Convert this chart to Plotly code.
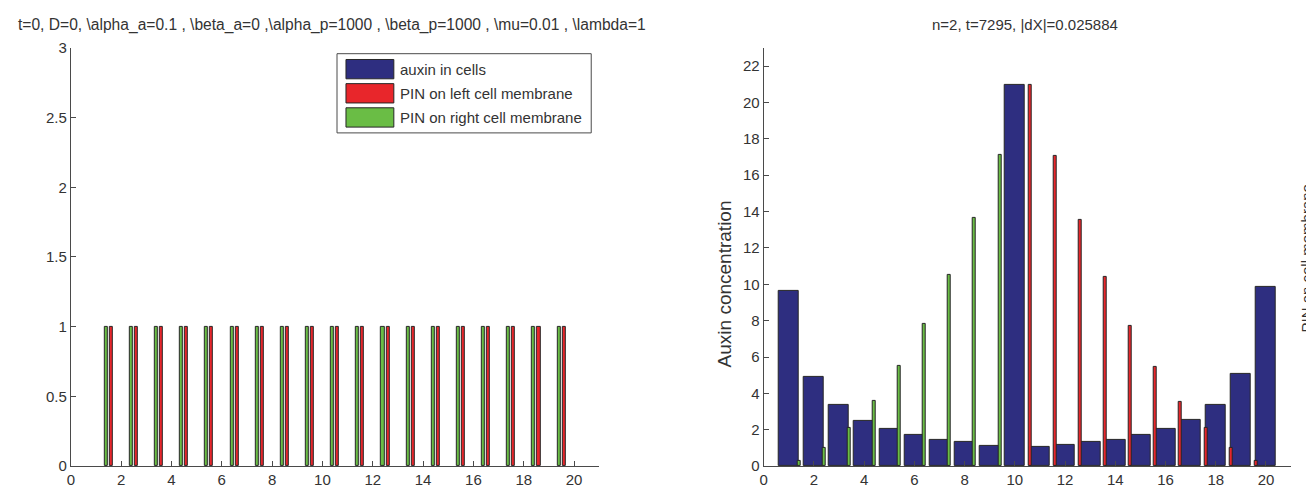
import plotly.graph_objects as go

W, H = 1314, 497
OFF = 8  # the page body margin shifts the figure by 8 px

# ---------------- data ----------------
cells = list(range(1, 21))

# left panel (t = 0)
auxin_t0 = [0] * 20
pin_left_t0 = [0] + [1] * 19
pin_right_t0 = [1] * 19 + [0]

# right panel (t = 7295)
auxin_t = [9.62, 4.93, 3.34, 2.51, 2.03, 1.71, 1.45, 1.33, 1.11, 20.97,
           1.06, 1.18, 1.34, 1.45, 1.71, 2.05, 2.56, 3.34, 5.06, 9.83]
pin_left_t = [0, 0, 0, 0, 0, 0, 0, 0, 0, 0,
              20.95, 17.05, 13.56, 10.41, 7.72, 5.46, 3.55, 2.10, 0.99, 0.28]
pin_right_t = [0.28, 0.99, 2.10, 3.61, 5.52, 7.80, 10.50, 13.65, 17.13, 0,
               0, 0, 0, 0, 0, 0, 0, 0, 0, 0]

x_ticks = list(range(0, 21, 2))
y_ticks_left = [0, 0.5, 1, 1.5, 2, 2.5, 3]
y_ticks_left_text = ["0", "0.5", "1", "1.5", "2", "2.5", "3"]
y_ticks_right = list(range(0, 23, 2))

title_left = ("t=0, D=0, \\alpha_a=0.1 , \\beta_a=0 ,\\alpha_p=1000 , "
              "\\beta_p=1000 , \\mu=0.01 , \\lambda=1")
title_right = "n=2, t=7295, |dX|=0.025884"
legend_names = ["auxin in cells", "PIN on left cell membrane",
                "PIN on right cell membrane"]

# ---------------- style ----------------
BLUE = "#2E2E80"
RED = "#E8262B"
GREEN = "#6ABD45"
EDGE = "#262626"
AXC = "#4a4a4a"
TXT = "#333333"
FONT = "Liberation Sans, Arial, sans-serif"


def px(x):
    return (x - OFF) / W


def py(y):
    return 1 - (y - OFF) / H


def nonzero(vals):
    xs = [c for c, v in zip(cells, vals) if v > 0]
    ys = [v for v in vals if v > 0]
    return xs, ys


fig = go.Figure()


def add_panel(xa, ya, auxin, pl, pr):
    for vals, col, w, off, name in [
        (auxin, BLUE, 0.8, -0.4, legend_names[0]),
        (pl, RED, 0.12, -0.46, legend_names[1]),
        (pr, GREEN, 0.12, 0.34, legend_names[2]),
    ]:
        xs, ys = nonzero(vals)
        fig.add_trace(go.Bar(x=xs, y=ys, width=w, offset=off,
                             marker_color=col,
                             marker_line=dict(color=EDGE, width=1),
                             xaxis=xa, yaxis=ya, showlegend=False,
                             name=name))


add_panel("x", "y", auxin_t0, pin_left_t0, pin_right_t0)
add_panel("x2", "y2", auxin_t, pin_left_t, pin_right_t)

ydom = [py(473), py(40)]
common_x = dict(range=[0, 21], tickvals=x_ticks, showgrid=False,
                zeroline=False, showline=True, linecolor=AXC, linewidth=1,
                ticks="inside", ticklen=5, tickcolor=AXC,
                tickfont=dict(family=FONT, size=15, color=TXT))
common_y = dict(showgrid=False, zeroline=False, showline=True,
                linecolor=AXC, linewidth=1, ticks="inside", ticklen=5,
                tickcolor=AXC, tickfont=dict(family=FONT, size=15, color=TXT))

fig.update_layout(
    width=W, height=H,
    margin=dict(l=0, r=0, t=0, b=0),
    paper_bgcolor="white", plot_bgcolor="white",
    barmode="overlay",
    bargap=0,
    showlegend=False,
    xaxis=dict(domain=[px(67), px(597)], anchor="y", **common_x),
    yaxis=dict(domain=ydom, anchor="x", range=[0, 3],
               tickvals=y_ticks_left, ticktext=y_ticks_left_text, **common_y),
    xaxis2=dict(domain=[px(762), px(1291)], anchor="y2", **common_x),
    yaxis2=dict(domain=ydom, anchor="x2", range=[0, 23],
                tickvals=y_ticks_right, **common_y),
    yaxis3=dict(overlaying="y2", anchor="x2", side="right", range=[0, 23],
                showline=True, linecolor=AXC, linewidth=1, showgrid=False,
                zeroline=False, showticklabels=False, ticks=""),
)

# titles & axis labels
ann = [
    dict(text=title_left, x=px(329), y=py(16), size=15.6),
    dict(text=title_right, x=px(1024), y=py(16)),
    dict(text="Auxin concentration", x=px(723), y=py(284), textangle=-90,
         size=19),
    dict(text="PIN on cell membrane", x=px(1306), y=py(258), textangle=-90),
]
for a in ann:
    fig.add_annotation(text=a["text"], x=a["x"], y=a["y"], xref="paper",
                       yref="paper", showarrow=False,
                       textangle=a.get("textangle", 0),
                       xanchor="center", yanchor="middle",
                       font=dict(family=FONT, size=a.get("size", 15),
                                 color=TXT))

# legend (drawn manually to mimic the large MATLAB swatches)
fig.add_shape(type="rect", xref="paper", yref="paper",
              x0=px(334), x1=px(589), y0=py(128), y1=py(46),
              line=dict(color=AXC, width=1), fillcolor="white")
rows = [62, 87, 112]
for name, col, yc in zip(legend_names, [BLUE, RED, GREEN], rows):
    fig.add_shape(type="rect", xref="paper", yref="paper",
                  x0=px(343), x1=px(391), y0=py(yc + 10), y1=py(yc - 10),
                  line=dict(color=EDGE, width=1), fillcolor=col)
    fig.add_annotation(text=name, x=px(395), y=py(yc), xref="paper",
                       yref="paper", showarrow=False, xanchor="left",
                       yanchor="middle",
                       font=dict(family=FONT, size=15, color=TXT))

fig.write_html("out.html")
